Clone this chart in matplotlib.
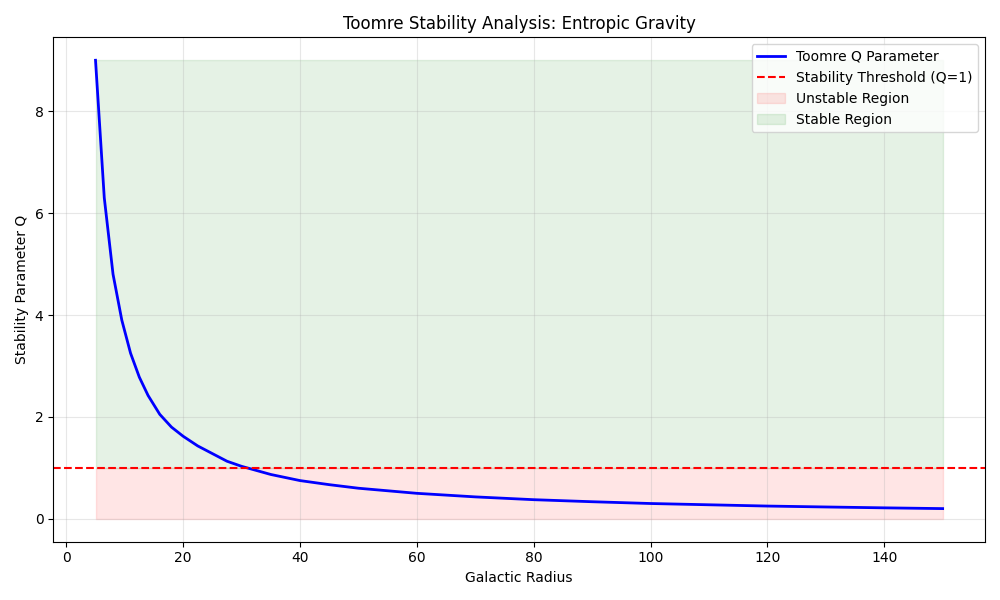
import numpy as np
import matplotlib.pyplot as plt

# values
radius = [5, 6.5, 8, 9.5, 11, 12.5, 14, 16, 18, 20, 22.5, 25, 27.5, 30, 35, 40,
          45, 50, 60, 70, 80, 90, 100, 110, 120, 130, 140, 150]
q_values = [9.0, 6.3, 4.8, 3.9, 3.25, 2.78, 2.42, 2.05, 1.80, 1.62, 1.43, 1.28,
            1.13, 1.03, 0.87, 0.75, 0.67, 0.60, 0.50, 0.43, 0.375, 0.335, 0.30,
            0.275, 0.25, 0.232, 0.215, 0.20]
threshold = 1

r = np.array(radius)
Q = np.array(q_values)

plt.figure(figsize=(10, 6), dpi=100)
plt.plot(r, Q, 'b-', linewidth=2, label='Toomre Q Parameter')
plt.axhline(y=threshold, color='r', linestyle='--', label='Stability Threshold (Q=1)')
plt.fill_between(r, 0, threshold, color='red', alpha=0.1, label='Unstable Region')
plt.fill_between(r, threshold, Q.max(), color='green', alpha=0.1, label='Stable Region')

plt.xlabel('Galactic Radius')
plt.ylabel('Stability Parameter Q')
plt.title('Toomre Stability Analysis: Entropic Gravity')
plt.legend(loc='upper right')
plt.grid(True, alpha=0.3)
plt.tight_layout()
plt.savefig('out.png')
